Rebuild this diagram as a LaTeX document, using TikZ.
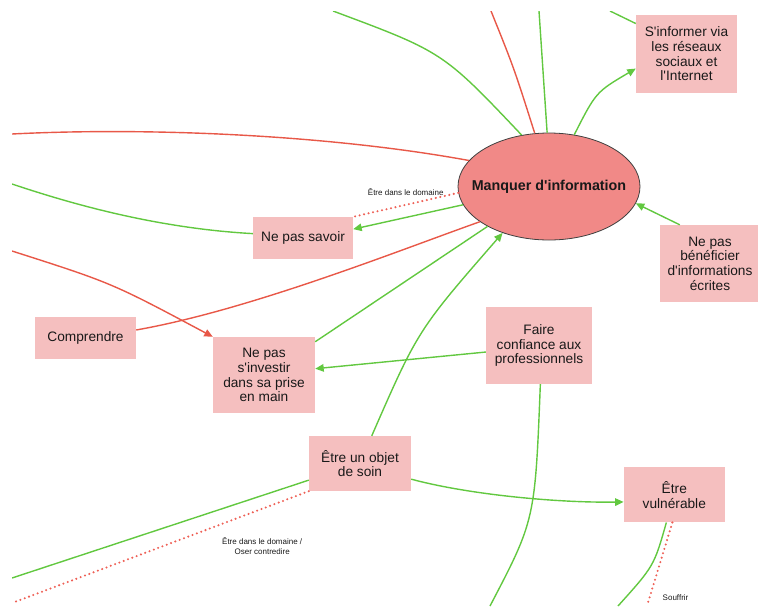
\documentclass[tikz,border=0pt]{standalone}
\usepackage{fontspec}
\setmainfont{Liberation Sans}[Ligatures=TeXOff]
\usetikzlibrary{arrows.meta,shapes.geometric}

\definecolor{linkgreen}{RGB}{98,200,64}
\definecolor{linkred}{RGB}{232,88,72}
\definecolor{dotred}{RGB}{238,96,86}
\definecolor{boxfill}{RGB}{245,191,191}
\definecolor{ovalfill}{RGB}{241,137,135}
\definecolor{ink}{RGB}{25,25,25}

\tikzset{
  concept/.style={fill=boxfill, draw=none, align=center, text=ink,
    font=\fontsize{13.7}{14.7}\selectfont, minimum width=101pt, inner sep=2pt},
  core/.style={ellipse, fill=ovalfill, draw=black!75, line width=0.8pt,
    minimum width=182pt, minimum height=107pt, inner sep=0pt,
    font=\bfseries\fontsize{14.3}{16}\selectfont, text=ink},
  pos link/.style={draw=linkgreen, line width=1.4pt},
  neg link/.style={draw=linkred, line width=1.4pt},
  hint link/.style={draw=dotred, line width=2.3pt, line cap=round,
    dash pattern=on 0pt off 4.6pt},
  arrowed/.style={-{Triangle[length=8.5pt,width=7.5pt]}},
  note/.style={font=\fontsize{8}{9.5}\selectfont, text=ink, align=center, inner sep=0pt},
}

\begin{document}
\begin{tikzpicture}[x=1pt,y=-1pt]
\useasboundingbox (0,0) rectangle (758,606);
\clip (12,11) rectangle (758,606);

% concepts (the oval's label is boxed at zero width so the oval keeps its set size)
\node[core] (core) at (549,186.5) {\makebox[0pt]{Manquer d'information}};
\node[concept, minimum height=78pt] (social) at (686.5,54) {S'informer via\\les réseaux\\sociaux et\\l'Internet};
\node[concept, minimum width=100pt, minimum height=42pt] (unaware) at (303,238) {Ne pas savoir};
\node[concept, minimum width=100pt, minimum height=77pt] (written) at (710,263.5) {Ne pas\\bénéficier\\d'informations\\écrites};
\node[concept, minimum height=42pt] (grasp) at (85.5,338) {Comprendre};
\node[concept, minimum width=102pt, minimum height=76pt] (invest) at (264,375) {Ne pas\\s'investir\\dans sa prise\\en main};
\node[concept, minimum width=106pt, minimum height=77pt] (trust) at (539,345.5) {Faire\\confiance aux\\professionnels};
\node[concept, minimum width=102pt, minimum height=55pt] (object) at (360,463.5) {Être un objet\\de soin};
\node[concept, minimum height=55pt] (fragile) at (674.3,494.8) {Être\\vulnérable};

% loose ends of links leaving the frame
\coordinate (t1) at (333,11);
\coordinate (t2) at (491,11);
\coordinate (t3) at (539,11);
\coordinate (t4) at (610,11);
\coordinate (l1) at (12,134);
\coordinate (l2) at (12,184);
\coordinate (l3) at (12,251);
\coordinate (l4) at (12,578);
\coordinate (l5) at (12,603);
\coordinate (b1) at (490,606);
\coordinate (b2) at (618,606);
\coordinate (b3) at (647,606);

% links
\draw[pos link] (t1) .. controls (443,52) .. (core.118);
\draw[neg link] (t2) .. controls (514,68) .. (core.105);
\draw[pos link] (t3) -- (core.92);
\draw[pos link] (t4) -- (social.149);
\draw[pos link, arrowed] (core.64) .. controls (596,92) .. (social.196);
\draw[neg link] (l1) .. controls (150,127) and (330,135) .. (core.162);
\draw[pos link] (l2) .. controls (60,200) and (150,228) .. (unaware.175);
\draw[pos link, arrowed] (core.192) -- (unaware.10);
\draw[hint link] (core.184) -- (unaware.north east)
  node[note, pos=0.5, yshift=13pt] {Être dans le domaine};
\draw[neg link, arrowed] (l3) .. controls (112,283) .. (invest.north west);
\draw[neg link] (grasp.9) .. controls (250,310) and (400,250) .. (core.207);
\draw[pos link] (invest.33) -- (core.213);
\draw[pos link, arrowed] (object.67) .. controls (418,330) .. (core.225);
\draw[pos link, arrowed] (trust.187) -- (invest.7);
\draw[pos link] (trust.272) .. controls (535,520) .. (b1);
\draw[pos link, arrowed] (object.-17) .. controls (470,495) and (560,503) .. (fragile.188);
\draw[pos link] (object.198) -- (l4);
\draw[hint link] (object.south west) -- (l5)
  node[note, pos=0.157, yshift=-37.5pt] {Être dans le domaine /\\Oser contredire};
\draw[pos link] (fragile.254) .. controls (654,566) .. (b2);
\draw[hint link] (fragile.266) -- (b3)
  node[note, pos=0.9, xshift=26pt] {Souffrir};
\draw[pos link, arrowed] (written.128) -- (core.349);
\end{tikzpicture}
\end{document}
